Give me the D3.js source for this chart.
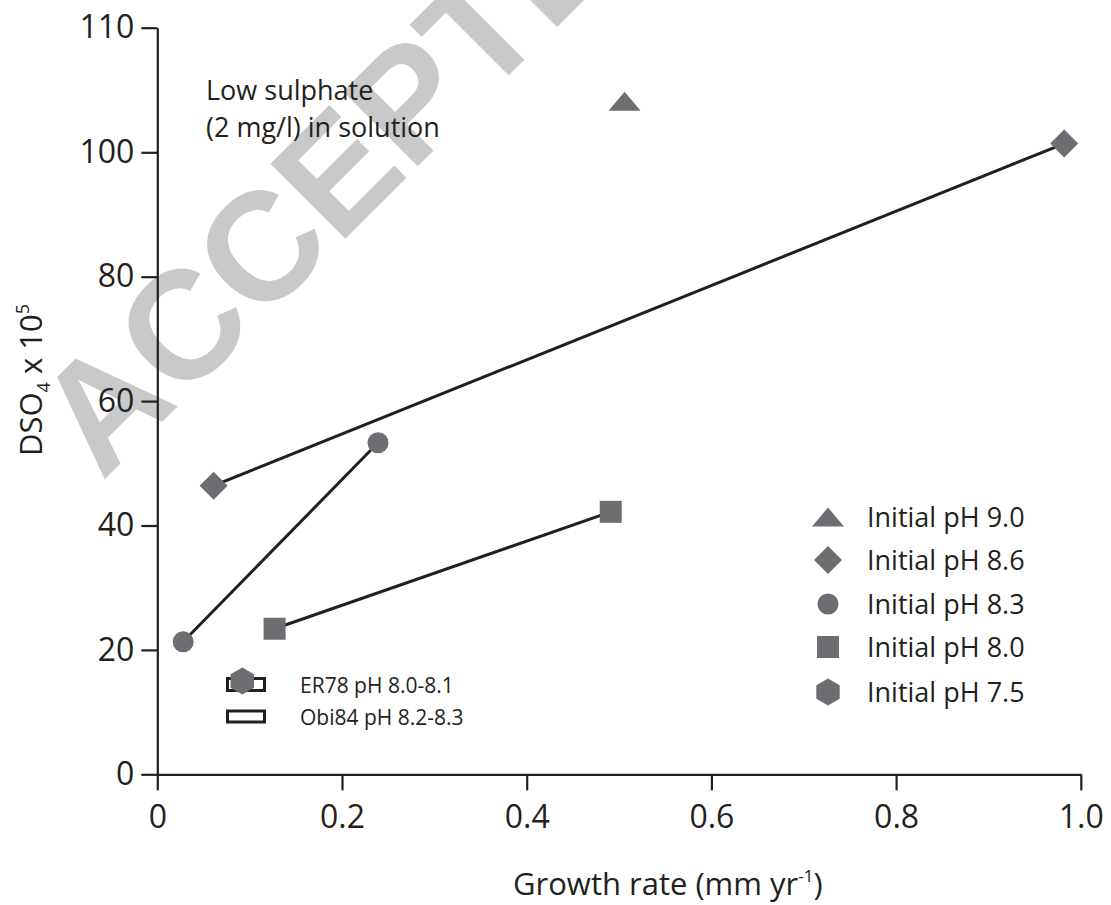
<!DOCTYPE html>
<html>
<head>
<meta charset="utf-8">
<script src="https://cdn.jsdelivr.net/npm/d3@7/dist/d3.min.js"></script>
<style>
  body { margin: 0; background: #fff; }
  svg { font-family: "Open Sans", sans-serif; }
  .axis path, .axis line { stroke: #231f20; stroke-width: 2.2; }
  .axis text { fill: #231f20; }
</style>
</head>
<body>
<svg width="1111" height="905"></svg>
<script>
// values
var seriesNames = ["Initial pH 9.0", "Initial pH 8.6", "Initial pH 8.3", "Initial pH 8.0", "Initial pH 7.5"];
var seriesShapes = ["triangle", "diamond", "circle", "square", "hexagon"];
var ph90 = [{x: 0.506, y: 104.1}];
var ph86 = [{x: 0.061, y: 46.4}, {x: 0.982, y: 100.7}];
var ph83 = [{x: 0.028, y: 21.3}, {x: 0.239, y: 53.3}];
var ph80 = [{x: 0.127, y: 23.4}, {x: 0.491, y: 42.2}];
var ph75 = [{x: 0.092, y: 15.0}];
var xTicks = [0, 0.2, 0.4, 0.6, 0.8, 1.0];
var xTickLabels = ["0", "0.2", "0.4", "0.6", "0.8", "1.0"];
var yTicks = [0, 20, 40, 60, 80, 100, 110];
var refNames = ["ER78 pH 8.0-8.1", "Obi84 pH 8.2-8.3"];

var allSeries = [ph90, ph86, ph83, ph80, ph75];

var svg = d3.select("svg");
var ink = "#231f20",
    markGrey = "#6d6e71";

// the original axis is not linear above 100 (110 sits where 120 would)
var x = d3.scaleLinear().domain([0, 1]).range([157.3, 1080.8]);
var y = d3.scaleLinear().domain([0, 100, 110]).range([774.3, 152.3, 27.7]);

// watermark behind everything
svg.append("text")
    .attr("transform", "translate(102,482) rotate(-45)")
    .attr("font-family", "Liberation Sans, Arial, sans-serif")
    .attr("font-weight", "bold")
    .attr("font-size", 154)
    .attr("fill", "#c8c9cb")
    .text("ACCEPTED");

//--Axes
var yAxis = d3.axisLeft(y)
    .tickValues(yTicks)
    .tickSizeInner(16)
    .tickSizeOuter(0)
    .tickPadding(7);
var gy = svg.append("g")
    .attr("class", "axis")
    .attr("transform", "translate(" + x(0) + ",0)")
    .call(yAxis);
gy.selectAll("text").attr("font-size", 32).attr("font-family", "Open Sans");

var xAxis = d3.axisBottom(x)
    .tickValues(xTicks)
    .tickFormat(function(d, i) { return xTickLabels[i]; })
    .tickSizeInner(16)
    .tickSizeOuter(0)
    .tickPadding(15);
var gx = svg.append("g")
    .attr("class", "axis")
    .attr("transform", "translate(0," + y(0) + ")")
    .call(xAxis);
gx.selectAll("text").attr("font-size", 32).attr("font-family", "Open Sans");

// axis titles
var yTitle = svg.append("text")
    .attr("transform", "translate(42,456) rotate(-90)")
    .attr("font-size", 31)
    .attr("fill", ink);
yTitle.append("tspan").text("DSO");
yTitle.append("tspan").attr("font-size", 18).attr("dy", 8).text("4");
yTitle.append("tspan").attr("dy", -8).text(" x 10");
yTitle.append("tspan").attr("font-size", 18).attr("dy", -13).text("5");

var xTitle = svg.append("text")
    .attr("x", 513)
    .attr("y", 895)
    .attr("font-size", 31)
    .attr("fill", ink);
xTitle.append("tspan").text("Growth rate (mm yr");
xTitle.append("tspan").attr("font-size", 17).attr("dy", -13).text("-1");
xTitle.append("tspan").attr("dy", 13).text(")");

// annotation
svg.append("text")
    .attr("x", 206).attr("y", 100)
    .attr("font-size", 27).attr("fill", ink)
    .text("Low sulphate");
svg.append("text")
    .attr("x", 206).attr("y", 137)
    .attr("font-size", 27).attr("fill", ink)
    .text("(2 mg/l) in solution");

//--Marker shapes
function shapePath(shape) {
    if (shape === "triangle") return "M0,-9.5L16,9.5L-16,9.5Z";
    if (shape === "diamond") return "M0,-14L14,0L0,14L-14,0Z";
    if (shape === "circle") return "M-10.5,0A10.5,10.5 0 1,0 10.5,0A10.5,10.5 0 1,0 -10.5,0Z";
    if (shape === "square") return "M-11,-11h22v22h-22Z";
    // pointy-top hexagon
    var r = 13.5, pts = [];
    for (var k = 0; k < 6; k++) {
        var a = (Math.PI / 180) * (-90 + 60 * k);
        pts.push([r * Math.cos(a), r * Math.sin(a)]);
    }
    return d3.line()(pts) + "Z";
}

// reference boxes (ER78 / Obi84), drawn under the data
var refBoxes = svg.append("g");
refNames.forEach(function(name, i) {
    var cy = 685 + i * 32;
    refBoxes.append("rect")
        .attr("x", 227.5).attr("y", cy - 6.5 + (i ? 0.5 : 0))
        .attr("width", 37).attr("height", i ? 11 : 12)
        .attr("fill", "#fff")
        .attr("stroke", ink)
        .attr("stroke-width", 3);
    refBoxes.append("text")
        .attr("x", 300).attr("y", cy)
        .attr("dy", "0.36em")
        .attr("font-size", 21).attr("fill", ink)
        .text(name);
});

// lines
var line = d3.line()
    .x(function(d) { return x(d.x); })
    .y(function(d) { return y(d.y); });
allSeries.forEach(function(data) {
    if (data.length > 1) {
        svg.append("path")
            .attr("d", line(data))
            .attr("fill", "none")
            .attr("stroke", ink)
            .attr("stroke-width", 3);
    }
});

// points
allSeries.forEach(function(data, i) {
    svg.append("g").selectAll("path")
        .data(data)
        .enter()
        .append("path")
        .attr("d", shapePath(seriesShapes[i]))
        .attr("transform", function(d) { return "translate(" + x(d.x) + "," + y(d.y) + ")"; })
        .attr("fill", markGrey);
});

//Legend
var legend = svg.append("g").attr("font-size", 27);
var legendY = [517, 560, 604, 647, 692];
seriesNames.forEach(function(name, i) {
    legend.append("path")
        .attr("d", shapePath(seriesShapes[i]))
        .attr("transform", "translate(828," + legendY[i] + ")")
        .attr("fill", markGrey);
    legend.append("text")
        .attr("x", 867).attr("y", legendY[i])
        .attr("dy", "0.36em")
        .attr("fill", ink)
        .text(name);
});
</script>
</body>
</html>
